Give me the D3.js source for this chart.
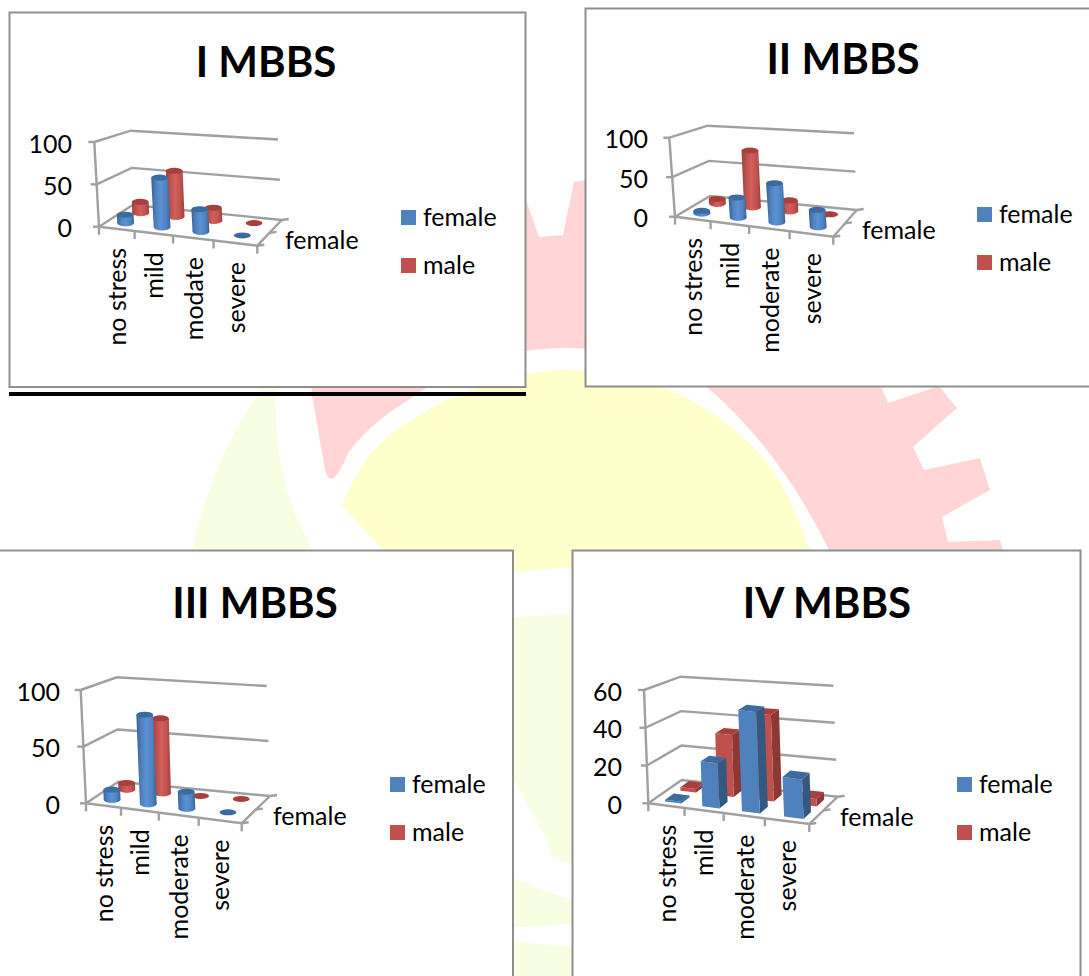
<!DOCTYPE html>
<html>
<head>
<meta charset="utf-8">
<style>
html,body{margin:0;padding:0;background:#fff;overflow:hidden}
svg{display:block}
text{font-family:Lato,"Open Sans",sans-serif;fill:#000}
</style>
<script src="https://cdn.jsdelivr.net/npm/d3@7"></script>
</head>
<body>
<svg id="page" width="1089" height="976"></svg>
<script>
// Stress levels among medical students by year and sex.
const seriesNames = ["female", "male"];
const titles = ["I MBBS", "II MBBS", "III MBBS", "IV MBBS"];
const categoriesI = ["no stress", "mild", "modate", "severe"];
const categoriesOther = ["no stress", "mild", "moderate", "severe"];

const femaleI = [10, 60, 27, 1];
const maleI = [14, 58, 16, 2];
const femaleII = [3, 26, 50, 22];
const maleII = [6, 76, 14, 1];
const femaleIII = [9, 80, 15, 1];
const maleIII = [6, 69, 1, 2];
const femaleIV = [1, 24, 54, 21];
const maleIV = [2, 34, 47, 4];

const ticksHundred = [0, 50, 100];
const ticksSixty = [0, 20, 40, 60];

// Widening of the category slots toward the viewer, as fractions of the front edge.
const slotEdges = [0, 0.225, 0.468, 0.724, 1];

const blue = {face: "#4f81bd", dark: "#34597f", cap: "#3d6a9f", edge: "#396294", glow: "#5b92d6", foot: "#76aee8"};
const red = {face: "#c0504d", dark: "#8c3836", cap: "#a63f3d", edge: "#9c403e", glow: "#d0605c", foot: "#d96f6a"};
const colors = {female: blue, male: red};

// Layout of each chart card and of its tilted plot frame.
const cards = [
  {title: titles[0], cats: categoriesI, female: femaleI, male: maleI, ticks: ticksHundred, shape: "cylinder",
   box: [9.5, 12.5, 516, 374.5], titleAt: [266, 77], tickLabelX: 72, depthLabel: [285, 249], legend: [401, 210],
   fl: [99, 226.7], fr: [257.3, 245.7], bl: [132.7, 205], br: [281.7, 220], flTop: [94.3, 142], blTop: [130.7, 130.7], brTop: [278, 139.5]},
  {title: titles[1], cats: categoriesOther, female: femaleII, male: maleII, ticks: ticksHundred, shape: "cylinder",
   box: [585.5, 8.5, 520, 378], titleAt: [843, 74], tickLabelX: 648, depthLabel: [862, 239], legend: [977, 207],
   fl: [675, 216.7], fr: [833.3, 236.7], bl: [710, 196], br: [856.7, 210], flTop: [669.3, 137.7], blTop: [707.7, 125.7], brTop: [854, 133.3]},
  {title: titles[2], cats: categoriesOther, female: femaleIII, male: maleIII, ticks: ticksHundred, shape: "cylinder",
   box: [-6, 550.5, 519, 440], titleAt: [255, 618], tickLabelX: 60, depthLabel: [273, 825], legend: [390, 777],
   fl: [86, 803.3], fr: [241.7, 823.3], bl: [118.3, 781.7], br: [270, 796], flTop: [80.7, 690], blTop: [116.7, 677.3], brTop: [266.7, 686]},
  {title: titles[3], cats: categoriesOther, female: femaleIV, male: maleIV, ticks: ticksSixty, shape: "box",
   box: [572.5, 550.5, 508, 440], titleAt: [827, 618], tickLabelX: 622, depthLabel: [840, 826], legend: [957, 777],
   fl: [648.3, 803.3], fr: [809.3, 824], bl: [681.7, 780], br: [837.7, 796.7], flTop: [644, 690], blTop: [680.7, 676.7], brTop: [833.3, 685.7]}
];

const svg = d3.select("#page");
const smooth = d3.line().curve(d3.curveCatmullRom.alpha(0.5));

// Faint emblem printed behind the charts.
const backdrop = svg.append("g");
backdrop.append("path").attr("fill", "#ffd5d5").attr("d",
  "M312 395 L325 470 Q328 480 332 479 Q338 477 348 453 Q365 430 389 413 L423 390 Q490 348 565 348 Q640 348 707 387 " +
  "Q780 450 829 550 L1003 550 L1000 540 L948 542 L942 517 L990 490 L980 458 L924 470 L913 447 L957 408 L939 386 " +
  "L888 403 L878 380 L800 200 L585 180 L574 182 L563 235 L539 237 L525 197 L300 250 Z");
backdrop.append("path").attr("fill", "#ffffcc").attr("d",
  smooth([[342,505],[371,453],[423,413],[481,387],[563,370],[661,387],[731,427],[777,477],[809,547]]) +
  "L830 600 L800 560 L572 567 L513 572 L420 575 L383 550 Z");
const paleGreen = "#f8fee2";
[
  "M192 550 Q212 460 261 390 L276 390 Q272 480 313 550 Z",
  "M505 618 Q540 615 580 614 L580 868 L572 865 L552 857 L543 833 L513 778 L505 765 Z",
  "M505 875 L513 878 L572 901 L580 904 L580 922 L572 923 Q540 927 505 927 Z",
  "M505 941 L572 947 L580 948 L580 976 L505 976 Z"
].forEach(d => backdrop.append("path").attr("fill", paleGreen).attr("d", d));

// Shared cylinder shading, one horizontal gradient per colour.
const defs = svg.append("defs");
Object.entries(colors).forEach(([name, c]) => {
  const g = defs.append("linearGradient").attr("id", "barrel-" + name);
  [[0, c.edge], [0.25, c.face], [0.5, c.glow], [0.8, c.face], [1, c.edge]].forEach(([o, col]) =>
    g.append("stop").attr("offset", o).attr("stop-color", col));
});

const frameLine = "#a0a0a0";
const slotScale = d3.scaleLinear().domain(d3.range(slotEdges.length)).range(slotEdges);
const depthScale = d3.scalePoint().domain(seriesNames).range([0.27, 0.73]);
const lerp = (a, b, t) => [a[0] + (b[0] - a[0]) * t, a[1] + (b[1] - a[1]) * t];

cards.forEach(drawCard);

// Heavy rule under the first card.
svg.append("rect").attr("x", 9).attr("y", 392).attr("width", 517).attr("height", 4).attr("fill", "#000");

function drawCard(card) {
  const g = svg.append("g");
  const [bx, by, bw, bh] = card.box;
  g.append("rect").attr("x", bx).attr("y", by).attr("width", bw).attr("height", bh)
    .attr("fill", "#fff").attr("stroke", "#8e8e8e").attr("stroke-width", 2);

  g.append("text").attr("x", card.titleAt[0]).attr("y", card.titleAt[1]).attr("text-anchor", "middle")
    .attr("font-weight", 700).attr("font-size", 42).text(card.title);

  const rise = [card.flTop[0] - card.fl[0], card.flTop[1] - card.fl[1]];
  const frTop = [card.fr[0] + rise[0], card.fr[1] + rise[1]];
  const heightScale = d3.scaleLinear().domain(d3.extent(card.ticks)).range([0, 1]);

  // Maps slot position, depth (0 front, 1 back) and value onto the tilted frame.
  const project = (slot, depth, value) => {
    const u = slotScale(slot);
    const floor = lerp(lerp(card.fl, card.fr, u), lerp(card.bl, card.br, u), depth);
    const roof = lerp(lerp(card.flTop, frTop, u), lerp(card.blTop, card.brTop, u), depth);
    return lerp(floor, roof, heightScale(value));
  };

  const stroke = (pts, width = 2.4) => g.append("path")
    .attr("d", d3.line()(pts)).attr("fill", "none")
    .attr("stroke", frameLine).attr("stroke-width", width);

  // Walls: a gridline per tick along the left wall and across the back.
  const top = d3.max(card.ticks);
  card.ticks.forEach(t => {
    const a = project(0, 0, t), b = project(0, 1, t), c = project(4, 1, t);
    stroke([a, b, c]);
    stroke([a, [a[0] - 6, a[1]]]);
    g.append("text").attr("x", card.tickLabelX).attr("y", a[1] + 1.5).attr("dy", "0.36em")
      .attr("text-anchor", "end").attr("font-size", 25).text(t);
  });
  stroke([project(0, 0, 0), project(0, 0, top)]);

  // Floor outline with category and depth tick marks.
  stroke([project(0, 0, 0), project(4, 0, 0), project(4, 1, 0)]);
  d3.range(5).forEach(i => {
    const p = project(i, 0, 0);
    stroke([p, [p[0], p[1] + 8]]);
  });
  [0, 0.5, 1].forEach(d => {
    const p = project(4, d, 0);
    stroke([p, [p[0] + 7, p[1] - 1]]);
  });

  // Rows are painted back to front so the nearer bars overlap the farther ones.
  seriesNames.slice().reverse().forEach(name => {
    card[name].forEach((value, i) => {
      if (card.shape === "cylinder") drawCylinder(g, project, name, value, i);
      else drawBlock(g, project, name, value, i);
    });
  });

  // Rotated category labels under the front edge.
  card.cats.forEach((cat, i) => {
    const p = project(i + 0.5, 0, 0);
    g.append("text")
      .attr("transform", `translate(${p[0] + 0.5},${p[1] + 19}) rotate(-90)`)
      .attr("dy", "0.35em").attr("text-anchor", "end").attr("font-size", 25).text(cat);
  });

  g.append("text").attr("x", card.depthLabel[0]).attr("y", card.depthLabel[1])
    .attr("font-size", 25).text(seriesNames[0]);

  // Legend.
  const [lx, ly] = card.legend;
  seriesNames.forEach((name, k) => {
    const y = ly + k * 48;
    g.append("rect").attr("x", lx).attr("y", y).attr("width", 15).attr("height", 15)
      .attr("fill", colors[name].face);
    g.append("text").attr("x", lx + 22).attr("y", y + 7.5).attr("dy", "0.35em")
      .attr("font-size", 25).text(name);
  });
}

function drawCylinder(g, project, name, value, i) {
  const c = colors[name];
  const rx = 8.4, ry = 3;
  const base = project(i + 0.5, depthScale(name), 0);
  const tip = project(i + 0.5, depthScale(name), value);
  if (value <= 2) {
    g.append("ellipse").attr("cx", tip[0]).attr("cy", tip[1]).attr("rx", rx).attr("ry", ry).attr("fill", c.cap);
    return;
  }
  g.append("ellipse").attr("cx", base[0]).attr("cy", base[1]).attr("rx", rx).attr("ry", ry + 0.6).attr("fill", c.foot);
  g.append("path")
    .attr("d", `M${base[0] - rx} ${base[1]} L${tip[0] - rx} ${tip[1]} L${tip[0] + rx} ${tip[1]} L${base[0] + rx} ${base[1]}` +
      `A${rx} ${ry} 0 0 1 ${base[0] - rx} ${base[1]} Z`)
    .attr("fill", `url(#barrel-${name})`);
  g.append("ellipse").attr("cx", tip[0]).attr("cy", tip[1]).attr("rx", rx).attr("ry", ry).attr("fill", c.cap);
}

function drawBlock(g, project, name, value, i) {
  const c = colors[name];
  const du = 0.22, dv = 0.13;
  const d = depthScale(name), s = i + 0.56;
  const poly = (pts, fill) => g.append("path").attr("d", d3.line()(pts) + "Z").attr("fill", fill);
  const p = (sx, dy, v) => project(s + sx * du, d + dy * dv, v);
  poly([p(1, -1, 0), p(1, 1, 0), p(1, 1, value), p(1, -1, value)], c.dark);
  poly([p(-1, -1, 0), p(1, -1, 0), p(1, -1, value), p(-1, -1, value)], c.face);
  poly([p(-1, -1, value), p(1, -1, value), p(1, 1, value), p(-1, 1, value)], c.cap);
}
</script>
</body>
</html>
